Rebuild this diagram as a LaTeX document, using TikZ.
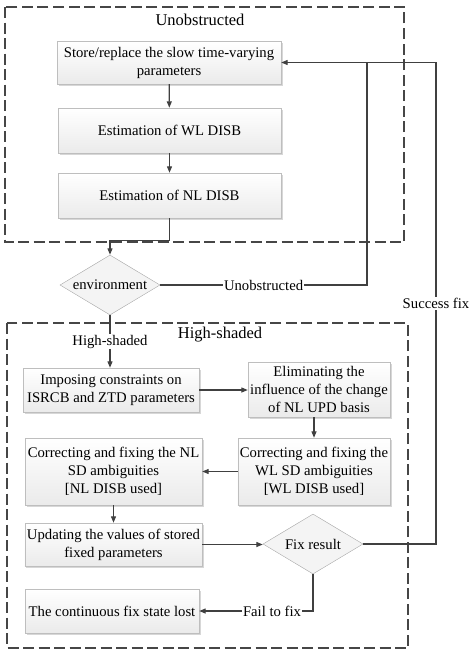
\documentclass[tikz,border=0pt]{standalone}
\usepackage{fontspec}
\setmainfont{Liberation Serif}
\definecolor{linegray}{RGB}{64, 64, 64}
\definecolor{edgegray}{RGB}{190, 190, 190}
\definecolor{dashgray}{RGB}{70, 70, 70}
\usetikzlibrary{shapes, arrows.meta, positioning, calc, shadows}

\begin{document}
\begin{tikzpicture}[x=1pt, y=-1pt,
    every node/.style={font=\fontsize{14.7}{18}\selectfont},
    procbox/.style={draw=edgegray, top color=white, bottom color=gray!16, align=center, inner sep=2pt,
      drop shadow={shadow xshift=1.5pt, shadow yshift=-1.5pt, fill=gray!45, opacity=0.7}},
    decision/.style={diamond, draw=gray!70, fill=gray!9, inner sep=0pt, shape aspect=1.67,
      minimum width=100pt, minimum height=60pt},
    region/.style={draw=dashgray, line width=1.8pt, dash pattern=on 11pt off 4.5pt},
    regiontitle/.style={font=\fontsize{16.5}{20}\selectfont},
    arr/.style={-{Triangle[length=6.5pt, width=5pt]}, linegray, line width=1.2pt},
    link/.style={linegray, line width=1.2pt},
    lbl/.style={fill=white, text=black, inner sep=1pt}]
  \useasboundingbox (0,0) rectangle (474,653);

  % Unobstructed part
  \draw[region] (5,7) rectangle (404,242);
  \node[regiontitle] (titleu) at (200,20) {Unobstructed};
  \node[procbox, minimum width=224pt, minimum height=43pt] (store) at (169,62.5) {Store/replace the slow time-varying\\parameters};
  \node[procbox, minimum width=223pt, minimum height=45pt] (wldisb) at (169.5,130.5) {Estimation of WL DISB};
  \node[procbox, minimum width=223pt, minimum height=45pt] (nldisb) at (169.5,195.5) {Estimation of NL DISB};

  % Environment decision
  \node[decision] (env) at (110,285) {environment};
  \coordinate (uj) at (367,62.5);
  \coordinate (sj) at (436,62.5);

  % High-shaded part
  \draw[region] (7,323) rectangle (408,648);
  \node[regiontitle] (titleh) at (220,335) {High-shaded};
  \node[procbox, minimum width=176pt, minimum height=44pt] (isrcb) at (111,390) {Imposing constraints on\\ISRCB and ZTD parameters};
  \node[procbox, minimum width=142pt, minimum height=55pt] (upd) at (319,389.5) {Eliminating the\\influence of the change\\of NL UPD basis};
  \node[procbox, minimum width=152pt, minimum height=67pt] (wlfix) at (314,471.5) {Correcting and fixing the\\WL SD ambiguities\\{[WL DISB used]}};
  \node[procbox, minimum width=177pt, minimum height=67pt] (nlfix) at (113.5,471.5) {Correcting and fixing the NL\\SD ambiguities\\{[NL DISB used]}};
  \node[procbox, minimum width=177pt, minimum height=43pt] (update) at (113.5,544.5) {Updating the values of stored\\fixed parameters};
  \node[decision] (fix) at (313,544) {Fix result};
  \node[procbox, minimum width=174pt, minimum height=44pt] (lost) at (112,611) {The continuous fix state lost};

  % Connectors
  \draw[arr] (store) -- (wldisb);
  \draw[arr] (wldisb) -- (nldisb);
  \draw[arr] (nldisb.south) -- ++(0,22) -| (env.north);
  \draw[link] (env.east) -| node[lbl, pos=0.25] {Unobstructed} (uj);
  \draw[arr] (env.south) -- node[lbl] {High-shaded} (env.south |- isrcb.north);
  \draw[arr] (isrcb.east) -- (isrcb.east -| upd.west);
  \draw[arr] (wlfix.north |- upd.south) -- (wlfix.north);
  \draw[arr] (wlfix.west) -- (nlfix.east);
  \draw[arr] (nlfix) -- (update);
  \draw[arr] (update.east) -- (update.east -| fix.west);
  \draw[arr] (fix.east) -| node[lbl, pos=0.75] {Success fix} (sj) -- (store.east);
  \draw[arr] (fix.south) |- node[lbl, pos=0.68] {Fail to fix} (lost.east);
\end{tikzpicture}
\end{document}
